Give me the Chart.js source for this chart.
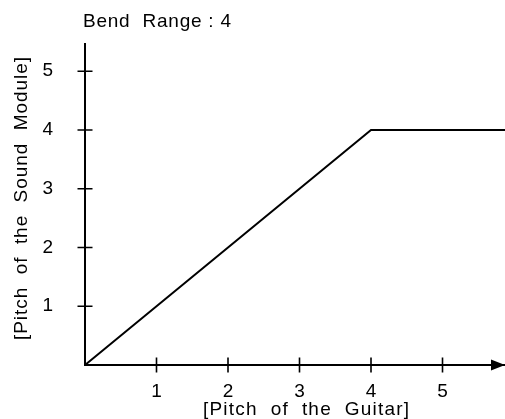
<!DOCTYPE html>
<html><head><meta charset="utf-8">
<script src="https://cdn.jsdelivr.net/npm/chart.js@4"></script>
<style>html,body{margin:0;padding:0;background:#fff;}#wrap{width:505px;height:419px;}</style>
</head><body>
<div id="wrap"><canvas id="c" width="505" height="419"></canvas></div>
<script>
const chartTitle = 'Bend  Range : 4';
const xAxisTitle = '[Pitch  of  the  Guitar]';
const yAxisTitle = '[Pitch  of  the  Sound  Module]';
const guitarPitch = [0, 4, 6];
const modulePitch = [0, 4, 4];
const xTickValues = [1, 2, 3, 4, 5];
const yTickValues = [1, 2, 3, 4, 5];
const xRange = [0, 5.874];
const yRange = [0, 5.464];

const INK = '#000';
const FONT = '"Liberation Sans", Arial, sans-serif';

function fitText(ctx, s, x, y, w) {
  ctx.letterSpacing = '0px';
  const m = ctx.measureText(s).width;
  const ls = (w - m) / (s.length - 1);
  ctx.letterSpacing = ls.toFixed(2) + 'px';
  ctx.fillText(s, x, y);
  ctx.letterSpacing = '0px';
}

const decor = {
  id: 'decor',
  afterDraw(chart) {
    const {ctx, chartArea: a, scales: {x, y}} = chart;
    ctx.save();
    ctx.strokeStyle = INK;
    ctx.lineWidth = 1.6;
    ctx.beginPath();
    xTickValues.forEach(v => {
      const px = x.getPixelForValue(v);
      ctx.moveTo(px, a.bottom - 7.5); ctx.lineTo(px, a.bottom + 7.5);
    });
    yTickValues.forEach(v => {
      const py = y.getPixelForValue(v);
      ctx.moveTo(a.left - 7.5, py); ctx.lineTo(a.left + 7.5, py);
    });
    ctx.stroke();
    ctx.fillStyle = INK;
    ctx.beginPath();
    ctx.moveTo(a.right, a.bottom);
    ctx.lineTo(a.right - 14, a.bottom - 5.5);
    ctx.lineTo(a.right - 14, a.bottom + 5.5);
    ctx.closePath();
    ctx.fill();
    ctx.font = '19px ' + FONT;
    ctx.textAlign = 'left';
    ctx.textBaseline = 'alphabetic';
    fitText(ctx, chartTitle, 83, 27, 148);
    fitText(ctx, xAxisTitle, 203, 415, 206);
    ctx.translate(27, 340);
    ctx.rotate(-Math.PI / 2);
    fitText(ctx, yAxisTitle, 0, 0, 283);
    ctx.restore();
  }
};

const tickFont = {family: FONT, size: 19};

new Chart(document.getElementById('c'), {
  type: 'scatter',
  data: {
    datasets: [{
      label: 'Bend',
      data: guitarPitch.map((g, i) => ({x: g, y: modulePitch[i]})),
      showLine: true,
      borderColor: INK,
      borderWidth: 2,
      pointRadius: 0,
      fill: false,
      tension: 0
    }]
  },
  options: {
    responsive: false,
    animation: false,
    devicePixelRatio: 1,
    layout: {padding: {top: 44, left: 0, right: 0, bottom: 0}},
    plugins: {legend: {display: false}, tooltip: {enabled: false}, title: {display: false}},
    scales: {
      x: {
        type: 'linear', min: xRange[0], max: xRange[1],
        grid: {display: false},
        border: {display: true, color: INK, width: 2},
        ticks: {stepSize: 1, includeBounds: false, padding: 7, color: INK, font: tickFont,
                callback: v => xTickValues.includes(v) ? String(v) : ''},
        afterBuildTicks: s => { s.ticks = xTickValues.map(v => ({value: v})); },
        afterFit: s => { s.height = 54; }
      },
      y: {
        type: 'linear', min: yRange[0], max: yRange[1],
        grid: {display: false},
        border: {display: true, color: INK, width: 2},
        ticks: {stepSize: 1, includeBounds: false, padding: 24, color: INK, font: tickFont,
                callback: v => yTickValues.includes(v) ? String(v) : ''},
        afterBuildTicks: s => { s.ticks = yTickValues.map(v => ({value: v})); },
        afterFit: s => { s.width = 85; }
      }
    }
  },
  plugins: [decor]
});
</script>
</body></html>
